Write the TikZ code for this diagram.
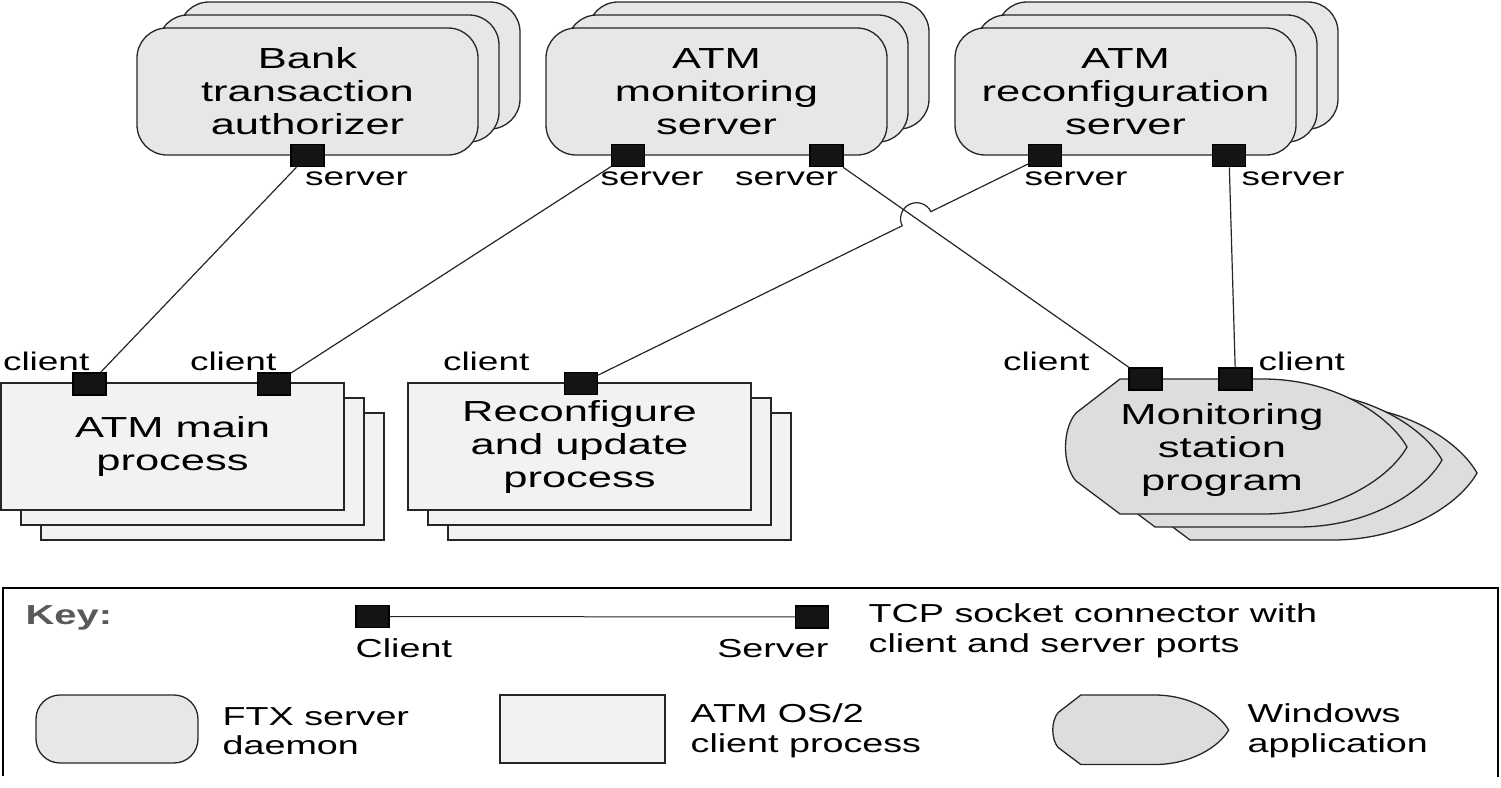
\documentclass[tikz,border=0pt]{standalone}
\usepackage{fontspec}
\setmainfont{Liberation Sans}[FakeStretch=1.45]
\newfontfamily\boxfont{Liberation Sans}[FakeStretch=1.5]
\usetikzlibrary{positioning,calc,intersections}

\definecolor{srvfill}{HTML}{E6E7E8}
\definecolor{clifill}{HTML}{F1F2F2}
\definecolor{winfill}{HTML}{DCDDDF}
\definecolor{keytext}{HTML}{58595B}

\tikzset{
  winapp/.pic={
    \path[draw=black!85,fill=winfill,line width=1.3pt]
      (56,0) -- (199,0) .. controls (270,0) and (325,36) .. (343,68)
      .. controls (325,100) and (270,135) .. (199,135) -- (56,135) -- (12,102)
      .. controls (-2,86) and (-2,50) .. (12,34) -- cycle;
  }
}

\begin{document}
\begin{tikzpicture}
  [x=1pt,y=-1pt,line width=1.3pt,
   bigtext/.style={font=\boxfont\fontsize{29}{33}\selectfont,align=center},
   lbl/.style={font=\fontsize{25.5}{28}\selectfont,inner sep=0pt}]
  \tikzstyle{srv}=[draw=black!85,fill=srvfill,rounded corners=30pt,minimum width=341pt,minimum height=127pt,inner sep=0pt,bigtext]
  \tikzstyle{cli}=[draw=black!85,fill=clifill,minimum width=343pt,minimum height=127pt,inner sep=0pt,bigtext]
  \tikzstyle{port}=[draw=black,fill=black!92,minimum width=33pt,minimum height=22pt,inner sep=0pt]
  \tikzstyle{wire}=[draw=black!85,line width=1.2pt]
  \tikzstyle{keytxt}=[font=\fontsize{26}{29.5}\selectfont,align=left,inner sep=0pt]

  \useasboundingbox (0,0) rectangle (1501,787);

  % FTX server daemons
  \foreach \x in {307.5,716.5,1125.5}
    \foreach \i in {2,1}
      \node[srv] at (\x+21*\i,91.5-13*\i) {};
  \node[srv] (bank) at (307.5,91.5) {Bank\\transaction\\authorizer};
  \node[srv] (mon) at (716.5,91.5) {ATM\\monitoring\\server};
  \node[srv] (rcf) at (1125.5,91.5) {ATM\\reconfiguration\\server};

  % ATM OS/2 client processes
  \foreach \x in {172.5,579.5}
    \foreach \i in {2,1}
      \node[cli] at (\x+20*\i,446.5+15*\i) {};
  \node[cli] (main) at (172.5,446.5) {ATM main\\process};
  \node[cli] (upd) at (579.5,446.5) {Reconfigure\\and update\\process};

  % Windows application
  \foreach \i in {2,1,0}
    \pic at (1064+35*\i,379+13*\i) {winapp};
  \node[bigtext] (station) at (1222,450) {Monitoring\\station\\program};

  % ports
  \node[port] (bankS) at (bank.south) {};
  \node[port] (monS1) at ([xshift=-88.5]mon.south) {};
  \node[port] (monS2) at ([xshift=110]mon.south) {};
  \node[port] (rcfS1) at ([xshift=-80.5]rcf.south) {};
  \node[port] (rcfS2) at ([xshift=103.5]rcf.south) {};
  \node[port] (mainC1) at (89.5,384) {};
  \node[port] (mainC2) at (274,384) {};
  \node[port] (updC) at (581,383.5) {};
  \node[port] (staC1) at (1145.5,379) {};
  \node[port] (staC2) at (1235.5,379) {};

  \node[lbl,anchor=base west] (bankSl) at ($(bankS)+(-3,30)$) {server};
  \node[lbl,anchor=base west] (monS1l) at ($(monS1)+(-28,30)$) {server};
  \node[lbl,anchor=base west] (monS2l) at ($(monS2)+(-92,30)$) {server};
  \node[lbl,anchor=base west] (rcfS1l) at ($(rcfS1)+(-21,30)$) {server};
  \node[lbl,anchor=base west] (rcfS2l) at ($(rcfS2)+(12,30)$) {server};
  \node[lbl,anchor=base east] (mainC1l) at (90,370) {client};
  \node[lbl,anchor=base east] (mainC2l) at (277,370) {client};
  \node[lbl,anchor=base east] (updCl) at (530,370) {client};
  \node[lbl,anchor=base east] (staC1l) at (1090,370) {client};
  \node[lbl,anchor=base west] (staC2l) at (1258,370) {client};

  % TCP socket connectors
  \draw[wire] (bankS) -- (mainC1);
  \draw[wire] (monS1) -- (mainC2);
  \draw[wire,name path=monln] (monS2) -- (staC1);
  \path[name path=rcfln] (rcfS1) -- (updC);
  \path[name intersections={of=monln and rcfln,by=hop}];
  \draw[wire] let \p1=($(rcfS1)-(updC)$), \n1={atan2(\y1,\x1)} in
    (rcfS1) -- ($(hop)!16pt!(rcfS1)$) arc[start angle=\n1,end angle=\n1+180,radius=16pt] -- (updC);
  \draw[wire] (rcfS2) -- (staC2);

  % key
  \draw[line width=1.2pt] (3,776) -- (3,588) -- (1498,588) -- (1498,777);
  \node[keytxt,font=\fontsize{27.5}{30}\selectfont\bfseries,text=keytext,anchor=base west] (key) at (25,624) {Key:};
  \node[port] (keyC) at (372.5,616.5) {};
  \node[port] (keyS) at (812,617) {};
  \draw[wire,line width=1pt] (keyC) -- (keyS);
  \node[keytxt,anchor=base west] (keyCl) at (355,657) {Client};
  \node[keytxt,anchor=base east] (keySl) at (829,657) {Server};
  \node[keytxt,anchor=west] (keyTcp) at (868,631) {TCP socket connector with\\client and server ports};
  \node[srv,minimum width=162pt,minimum height=68pt,rounded corners=24pt] (keySrv) at (117,729) {};
  \node[keytxt,anchor=west] (keySrvT) at (222,731) {FTX server\\daemon};
  \node[cli,minimum width=165pt,minimum height=68pt] (keyCli) at (582.5,729) {};
  \node[keytxt,anchor=west] (keyCliT) at (690,731) {ATM OS/2\\client process};
  \pic[scale=0.515] at (1052,695) {winapp};
  \node[keytxt,anchor=west] (keyWinT) at (1247,731) {Windows\\application};
\end{tikzpicture}
\end{document}
